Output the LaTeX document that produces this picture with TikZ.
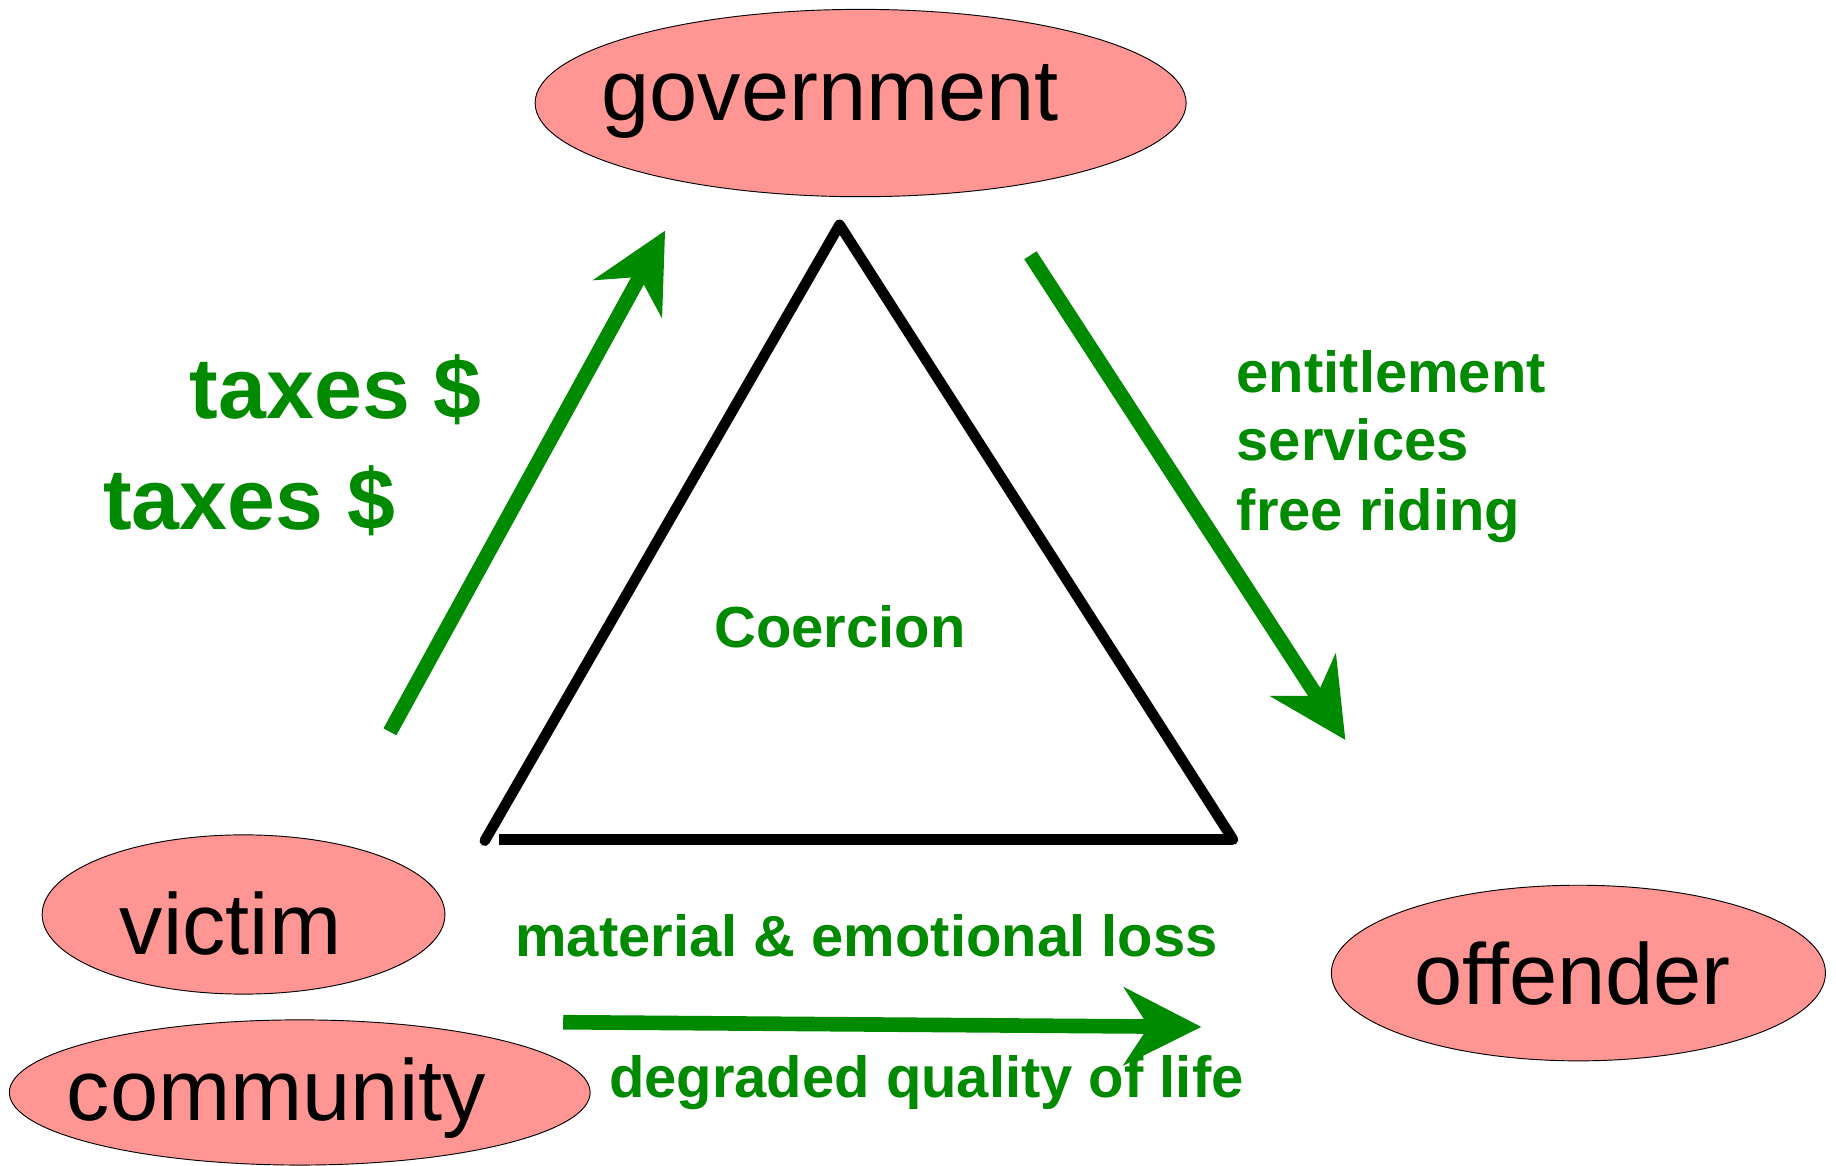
\documentclass[tikz,border=0pt]{standalone}
\usepackage{fontspec}
\setmainfont{Liberation Sans}
\usetikzlibrary{shapes.geometric,arrows.meta}
\definecolor{blobfill}{RGB}{255,150,148}
\definecolor{flowgreen}{RGB}{0,138,0}
\tikzset{
  blob/.style={ellipse, draw=black, line width=0.8pt, fill=blobfill, inner sep=0pt},
  blobtext/.style={anchor=base, inner sep=0pt, font=\fontsize{74}{80}\selectfont, text=black},
  bigtag/.style={anchor=base west, inner sep=0pt, font=\fontsize{73.5}{80}\selectfont\bfseries, text=flowgreen},
  tag/.style={anchor=base west, inner sep=0pt, font=\fontsize{49.5}{59}\selectfont\bfseries, text=flowgreen},
  flow/.style={draw=flowgreen, line width=12.5pt, line cap=butt,
    -{Stealth[length=66pt, width=66pt, inset=21pt, fill=flowgreen]}},
  tri/.style={draw=black, line width=9pt, line join=round}
}
\begin{document}
\begin{tikzpicture}[x=1pt,y=-1pt]
\useasboundingbox (0,0) rectangle (1568,995);
% ellipses
\node[blob, minimum width=556pt, minimum height=160pt] (gov) at (735,88) {};
\node[blob, minimum width=344pt, minimum height=136pt] (vic) at (208,781) {};
\node[blob, minimum width=496pt, minimum height=124pt] (com) at (256,933) {};
\node[blob, minimum width=422pt, minimum height=150pt] (off) at (1348,831) {};
\node[blobtext] (govt) at (709,103) {government};
\node[blobtext] (vict) at (197,815) {victim};
\node[blobtext] (comt) at (236,957) {community};
\node[blobtext] (offt) at (1343,858) {offender};
% triangle
\coordinate (apex) at (717,192);
\coordinate (bl) at (414,718);
\coordinate (br) at (1053,717);
\coordinate (bs) at (426,717);
\draw[tri, line cap=round] (bl) -- (apex) -- (br);
\draw[tri, line cap=butt] (br) -- (bs);
% arrows
\coordinate (a1s) at (333,625);
\coordinate (a1e) at (568,197);
\coordinate (a2s) at (880,218);
\coordinate (a2e) at (1149,632);
\coordinate (a3s) at (481,873);
\coordinate (a3e) at (1026,877);
\draw[flow] (a1s) -- (a1e);
\draw[flow] (a2s) -- (a2e);
\draw[flow] (a3s) -- (a3e);
% labels
\node[bigtag] (tax1) at (162,357) {taxes \$};
\node[bigtag] (tax2) at (88,452) {taxes \$};
\node[tag] (coer) at (610,553) {Coercion};
\node[tag] (ent) at (1056,335) {entitlement};
\node[tag] (serv) at (1056,393) {services};
\node[tag] (free) at (1056,453) {free riding};
\node[tag] (mat) at (440,817) {material \& emotional loss};
\node[tag] (deg) at (520,937) {degraded quality of life};
\end{tikzpicture}
\end{document}
